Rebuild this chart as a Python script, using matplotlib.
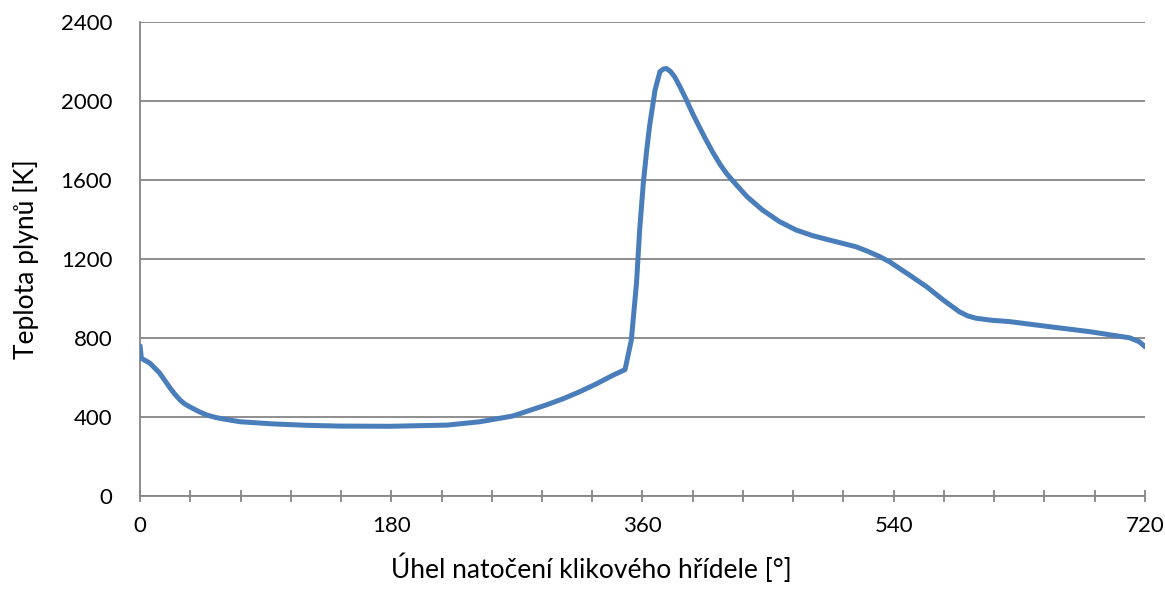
import numpy as np
import matplotlib
matplotlib.use('Agg')
from matplotlib import pyplot as plt

# crank angle [deg] and gas temperature [K]
uhel = [0, 1, 7, 14, 21.5, 25, 28.7, 32, 35.8, 42, 47.8, 54, 59.7, 71.6, 95.5,
        119, 143, 179, 220, 243.5, 267, 291, 303, 315, 327, 339, 347.5, 352,
        355.7, 358, 360.6, 363, 365, 369, 372.5, 375, 377, 380, 383, 387, 391.5,
        396, 401, 405, 410, 415.5, 420, 424.8, 435, 446, 458, 470, 482, 494,
        503, 513, 521, 530, 537, 550, 563.5, 575, 587, 593, 599, 610, 623, 652,
        680.5, 709, 716, 720]
teplota = [760, 697, 673, 623, 547, 515, 486, 466, 451, 428, 410, 398, 390, 376,
           365, 358, 354, 353, 359, 376, 405, 461, 492, 528, 568, 612, 640, 790,
           1078, 1350, 1585, 1750, 1870, 2056, 2149, 2162, 2165, 2150, 2123, 2070,
           2005, 1935, 1865, 1810, 1745, 1680, 1635, 1595, 1515, 1448, 1390, 1347,
           1318, 1296, 1280, 1262, 1240, 1212, 1186, 1125, 1060, 995, 933, 912,
           900, 890, 883, 857, 832, 801, 781, 756]

plt.rcParams['font.family'] = ['Lato', 'DejaVu Sans']

fig = plt.figure(figsize=(11.65, 5.89), dpi=100)
ax = fig.add_axes([0.1202, 0.1579, 0.8626, 0.8047])

ax.plot(uhel, teplota, color='#4A7EBB', lw=3.6, solid_joinstyle='round',
        solid_capstyle='round', zorder=3)

ax.set_xlim(0, 720)
ax.set_ylim(0, 2400)
ax.set_yticks(np.arange(0, 2401, 400))
ax.set_xticks(np.arange(0, 721, 36))
ax.set_xticklabels([str(v) if v % 180 == 0 else '' for v in range(0, 721, 36)])

ax.grid(axis='y', color='#868686', lw=1.3)
ax.set_axisbelow(True)
for s in ['top', 'right']:
    ax.spines[s].set_visible(False)
for s in ['left', 'bottom']:
    ax.spines[s].set_color('#868686')
    ax.spines[s].set_linewidth(1.3)

ax.tick_params(axis='x', direction='inout', length=9, width=1.3, color='#868686',
               labelsize=16, pad=10)
ax.tick_params(axis='y', length=0, labelsize=16, pad=20)

ax.set_xlabel('Úhel natočení klikového hřídele [°]', fontsize=19, va='center')
ax.set_ylabel('Teplota plynů [K]', fontsize=19, va='center')
# title of the x axis is centred on the whole chart, not on the plot area
ax.xaxis.set_label_coords(0.449, -0.152)
ax.yaxis.set_label_coords(-0.113, 0.5)

fig.savefig('out.png', dpi=100)
